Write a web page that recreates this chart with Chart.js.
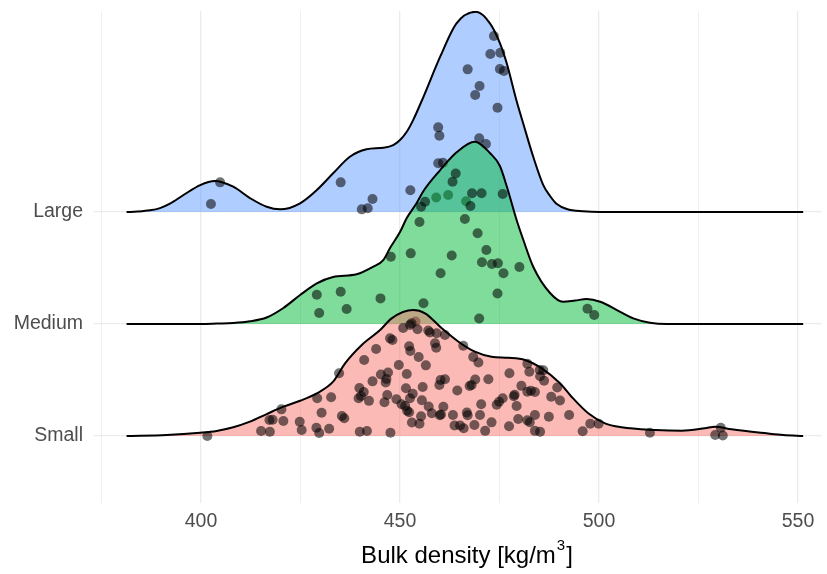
<!DOCTYPE html>
<html>
<head>
<meta charset="utf-8">
<script src="https://cdn.jsdelivr.net/npm/chart.js@4.4.0/dist/chart.umd.min.js"></script>
<style>
  html, body { margin: 0; padding: 0; background: #fff; }
  .wrap { width: 827px; height: 574px; }
</style>
</head>
<body>
<div class="wrap"><canvas id="ridgeChart"></canvas></div>
<script>
// ridgeline: bulk density by size class + jittered raw points

const groups = ['Small', 'Medium', 'Large'];
const xTicks = [375, 400, 425, 450, 475, 500, 525, 550];
const xLabeled = [400, 450, 500, 550];

// density curves (x, height above the ridge baseline)
const smallDensX = [381.3, 391.4, 399.8, 403.9, 408.1, 412.3, 416.5, 420.7, 424.9, 429.1, 433.2, 436.2, 440.4, 445.0, 447.9, 453.3, 456.3, 460.5, 464.7, 468.8, 473.0, 477.2, 481.4, 485.6, 490.2, 493.1, 497.3, 501.5, 505.7, 514.1, 520.8, 526.6, 529.2, 533.3, 542.1, 546.3, 551.3];
const smallDensH = [0, 0.009, 0.029, 0.045, 0.078, 0.128, 0.196, 0.262, 0.315, 0.381, 0.485, 0.649, 0.813, 0.946, 1.051, 1.125, 1.096, 0.962, 0.842, 0.753, 0.708, 0.699, 0.679, 0.604, 0.471, 0.351, 0.203, 0.113, 0.078, 0.054, 0.047, 0.069, 0.083, 0.060, 0.024, 0.009, 0];

const mediumDensX = [381.3, 400.0, 404.0, 408.1, 412.3, 416.5, 420.7, 424.9, 429.1, 433.2, 439.1, 443.3, 445.8, 447.5, 450.0, 451.7, 454.2, 455.9, 460.1, 464.3, 468.8, 472.6, 475.1, 476.8, 479.3, 481.0, 483.5, 487.7, 491.0, 494.0, 496.9, 500.3, 504.5, 508.6, 512.8, 517.0, 551.3];
const mediumDensH = [0, 0, 0.004, 0.009, 0.024, 0.058, 0.143, 0.259, 0.363, 0.420, 0.444, 0.512, 0.571, 0.679, 0.821, 0.946, 1.080, 1.188, 1.375, 1.536, 1.628, 1.527, 1.411, 1.232, 0.929, 0.750, 0.509, 0.277, 0.199, 0.210, 0.223, 0.199, 0.125, 0.051, 0.012, 0, 0];

const largeDensX = [381.3, 384.0, 387.2, 389.7, 392.2, 395.6, 399.8, 403.5, 408.1, 412.3, 416.5, 419.9, 424.9, 429.1, 433.2, 437.4, 441.6, 445.8, 448.3, 450.0, 451.7, 453.3, 455.9, 460.1, 464.2, 469.1, 472.6, 475.1, 476.8, 479.3, 481.0, 483.5, 486.0, 487.7, 489.4, 491.9, 496.1, 500.3, 551.3];
const largeDensH = [0, 0.004, 0.015, 0.035, 0.075, 0.152, 0.241, 0.277, 0.226, 0.125, 0.047, 0.024, 0.078, 0.196, 0.346, 0.494, 0.560, 0.574, 0.598, 0.643, 0.717, 0.821, 1.029, 1.387, 1.685, 1.788, 1.685, 1.509, 1.330, 0.991, 0.786, 0.491, 0.241, 0.143, 0.071, 0.027, 0.006, 0, 0];

// jittered observations (x, offset above the ridge baseline)
const smallPtsX = [401.6, 420.2, 417.2, 418.0, 420.7, 415.1, 417.3, 424.8, 425.3, 429.2, 432.7, 430.3, 429.0, 429.7, 432.2, 434.7, 435.4, 436.0, 439.8, 440.9, 439.6, 440.2, 442.2, 439.9, 441.7, 441.0, 443.1, 444.0, 447.5, 448.1, 450.8, 452.5, 452.9, 454.4, 457.1, 457.5, 459.2, 461.3, 452.3, 452.6, 458.8, 459.1, 454.7, 456.5, 465.9, 468.4, 469.7, 449.7, 451.7, 445.2, 447.0, 446.6, 446.4, 460.2, 461.3, 459.9, 455.7, 451.5, 446.8, 453.2, 464.4, 468.9, 468.0, 467.5, 472.2, 477.5, 482.0, 482.5, 485.1, 486.0, 485.2, 486.2, 480.5, 478.8, 478.6, 482.0, 482.9, 483.9, 488.0, 489.5, 446.1, 449.1, 450.4, 451.3, 451.8, 452.3, 452.5, 455.5, 457.2, 460.9, 458.0, 460.0, 460.3, 463.3, 466.8, 467.0, 470.4, 470.1, 474.3, 474.9, 475.8, 479.3, 479.7, 482.0, 482.6, 483.9, 487.4, 453.0, 454.9, 455.3, 463.7, 465.1, 466.0, 468.7, 471.4, 473.0, 477.4, 483.9, 485.2, 447.6, 490.2, 492.5, 497.8, 499.9, 495.9, 512.8, 529.2, 531.1, 530.6];
const smallPtsY = [0.000, 0.238, 0.143, 0.146, 0.134, 0.045, 0.038, 0.128, 0.054, 0.337, 0.346, 0.208, 0.074, 0.027, 0.065, 0.560, 0.179, 0.158, 0.429, 0.393, 0.337, 0.357, 0.314, 0.038, 0.045, 0.679, 0.488, 0.777, 0.872, 0.857, 0.964, 0.991, 1.006, 0.954, 0.942, 0.924, 0.917, 0.902, 0.801, 0.759, 0.828, 0.788, 0.705, 0.631, 0.806, 0.705, 0.656, 0.634, 0.554, 0.549, 0.567, 0.509, 0.479, 0.500, 0.507, 0.455, 0.438, 0.426, 0.366, 0.377, 0.406, 0.504, 0.455, 0.446, 0.507, 0.560, 0.645, 0.574, 0.589, 0.587, 0.533, 0.494, 0.448, 0.369, 0.355, 0.396, 0.404, 0.393, 0.351, 0.433, 0.301, 0.328, 0.283, 0.268, 0.225, 0.212, 0.337, 0.319, 0.263, 0.262, 0.203, 0.185, 0.192, 0.188, 0.210, 0.185, 0.284, 0.188, 0.279, 0.306, 0.337, 0.268, 0.152, 0.140, 0.123, 0.188, 0.172, 0.121, 0.110, 0.176, 0.094, 0.094, 0.069, 0.098, 0.046, 0.122, 0.087, 0.046, 0.038, 0.029, 0.317, 0.188, 0.110, 0.110, 0.042, 0.029, 0.009, 0.004, 0.074];

const mediumPtsX = [429.1, 435.1, 429.7, 436.6, 445.1, 447.7, 452.7, 454.9, 455.3, 456.3, 455.9, 460.2, 463.0, 463.2, 464.0, 466.3, 467.7, 468.1, 470.5, 469.5, 471.7, 470.6, 473.1, 474.6, 476.0, 480.0, 475.8, 474.5, 469.9, 497.1, 498.8, 453.9];
const mediumPtsY = [0.262, 0.288, 0.098, 0.134, 0.229, 0.601, 0.631, 0.911, 1.047, 1.092, 0.185, 0.453, 0.612, 1.271, 1.344, 0.938, 1.054, 1.167, 1.167, 0.810, 0.661, 0.551, 0.536, 0.542, 0.453, 0.509, 1.161, 0.272, 0.049, 0.137, 0.080, 0.022];

const largePtsX = [404.8, 402.5, 435.1, 443.1, 441.9, 440.4, 452.6, 459.6, 459.9, 459.6, 460.8, 467.0, 470.0, 468.9, 473.6, 472.7, 475.2, 475.1, 476.1, 474.5, 469.9, 471.6, 459.1, 462.1, 466.6];
const largePtsY = [0.265, 0.071, 0.265, 0.116, 0.033, 0.024, 0.194, 0.756, 0.681, 0.435, 0.440, 1.274, 1.125, 1.045, 1.571, 1.411, 1.422, 1.277, 1.259, 0.931, 0.658, 0.607, 0.129, 0.152, 0.096];

const fills = ['rgba(248,118,109,0.5)', 'rgba(0,186,56,0.5)', 'rgba(97,156,255,0.5)'];
const textGrey = '#4d4d4d';
const gridGrey = '#ebebeb';

Chart.defaults.font.family = '"Liberation Sans", Arial, sans-serif';

function toXY(xs, ys, base) {
    return xs.map((x, i) => ({ x: x, y: base + ys[i] }));
}

const curves = [[smallDensX, smallDensH], [mediumDensX, mediumDensH], [largeDensX, largeDensH]];
const points = [[smallPtsX, smallPtsY], [mediumPtsX, mediumPtsY], [largePtsX, largePtsY]];

// top ridge drawn first, so its points end up under the next ridge's fill
const datasets = [];
groups.forEach((name, i) => {
    const base = i + 1;
    datasets.push({
        type: 'scatter',
        label: name + ' points',
        data: toXY(points[i][0], points[i][1], base),
        backgroundColor: 'rgba(0,0,0,0.55)',
        borderWidth: 0,
        pointRadius: 5,
        pointHoverRadius: 5,
        order: i * 2
    });
    datasets.push({
        type: 'line',
        label: name,
        data: toXY(curves[i][0], curves[i][1], base),
        borderColor: '#000',
        borderWidth: 2,
        backgroundColor: fills[i],
        fill: { value: base },
        pointRadius: 0,
        cubicInterpolationMode: 'monotone',
        order: i * 2 + 1
    });
});

const axisTitle = {
    id: 'axisTitle',
    afterDraw(chart) {
        const ctx = chart.ctx;
        const main = 'Bulk density [kg/m';
        ctx.save();
        ctx.fillStyle = '#000';
        ctx.textBaseline = 'alphabetic';
        ctx.textAlign = 'left';
        ctx.font = '24px "Liberation Sans", Arial, sans-serif';
        const w1 = ctx.measureText(main).width;
        const w3 = ctx.measureText(']').width;
        ctx.font = '15px "Liberation Sans", Arial, sans-serif';
        const w2 = ctx.measureText('3').width + 2;
        const left = 467 - (w1 + w2 + w3) / 2;
        const baseY = 563;
        ctx.font = '24px "Liberation Sans", Arial, sans-serif';
        ctx.fillText(main, left, baseY);
        ctx.fillText(']', left + w1 + w2, baseY);
        ctx.font = '15px "Liberation Sans", Arial, sans-serif';
        ctx.fillText('3', left + w1 + 1, baseY - 13);
        ctx.restore();
    }
};

// drop the label overhang padding so the plot area is exactly where set
function noPad(scale) {
    scale.paddingTop = 0;
    scale.paddingBottom = 0;
    scale.paddingLeft = 0;
    scale.paddingRight = 0;
}

new Chart(document.getElementById('ridgeChart'), {
    type: 'scatter',
    data: { datasets },
    options: {
        responsive: true,
        maintainAspectRatio: false,
        animation: false,
        layout: { padding: { left: 0, top: 11, right: 5, bottom: 0 } },
        plugins: {
            legend: { display: false },
            tooltip: { enabled: false }
        },
        scales: {
            x: {
                type: 'linear',
                min: 373.12,
                max: 556.03,
                afterBuildTicks: (scale) => { scale.ticks = xTicks.map(v => ({ value: v })); },
                afterFit: (scale) => { scale.height = 71; noPad(scale); },
                border: { display: false },
                grid: {
                    color: gridGrey,
                    lineWidth: (c) => xLabeled.includes(c.tick && c.tick.value) ? 1.3 : 0.8,
                    drawTicks: false
                },
                ticks: {
                    autoSkip: false,
                    maxRotation: 0,
                    padding: 7,
                    color: textGrey,
                    font: { size: 19.5 },
                    callback: (v) => xLabeled.includes(v) ? String(v) : ''
                }
            },
            y: {
                type: 'linear',
                min: 0.402,
                max: 4.795,
                afterBuildTicks: (scale) => { scale.ticks = groups.map((g, i) => ({ value: i + 1 })); },
                afterFit: (scale) => { scale.width = 94; noPad(scale); },
                border: { display: false },
                grid: { color: gridGrey, lineWidth: 1.3, drawTicks: false },
                ticks: {
                    padding: 11,
                    color: textGrey,
                    font: { size: 19.5 },
                    callback: (v) => groups[v - 1] || ''
                }
            }
        }
    },
    plugins: [axisTitle]
});
</script>
</body>
</html>
